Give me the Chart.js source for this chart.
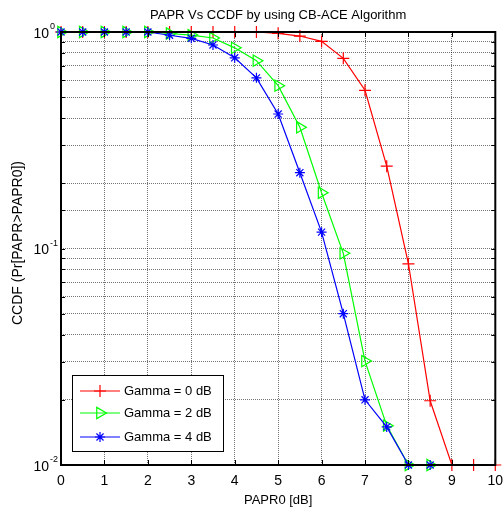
<!DOCTYPE html>
<html><head><meta charset="utf-8">
<script src="https://cdn.jsdelivr.net/npm/chart.js@4/dist/chart.umd.min.js"></script>
<style>html,body{margin:0;padding:0;background:#fff}#wrap{width:503px;height:512px}</style>
</head><body><div id="wrap"><canvas id="c" width="503" height="512"></canvas></div>
<script>
// ---- data ----
const papr0 = [0,0.5,1,1.5,2,2.5,3,3.5,4,4.5,5,5.5,6,6.5,7,7.5,8,8.5,9,9.5,10];
const gamma0 = [1,1,1,1,1,1,1,1,1,1,0.986,0.958,0.905,0.756,0.538,0.240,0.085,0.0198,0.01,0.01,0.01];
const gamma2 = [1,1,1,1,1,0.984,0.968,0.938,0.845,0.737,0.565,0.363,0.181,0.095,0.0302,0.0152,0.01,0.01];
const gamma4 = [1,1,1,1,1,0.966,0.935,0.871,0.760,0.614,0.418,0.224,0.119,0.050,0.020,0.015,0.01,0.01];
const seriesNames = ['Gamma = 0 dB','Gamma = 2 dB','Gamma = 4 dB'];
const xTickLabels = ['0','1','2','3','4','5','6','7','8','9','10'];
const yTickValues = [1,0.1,0.01];
const yTickExps = ['0','-1','-2'];
const titleText = 'PAPR Vs CCDF by using CB-ACE Algorithm';
const xTitle = 'PAPR0 [dB]';
const yTitle = 'CCDF (Pr[PAPR>PAPR0])';

const FONT = '"Liberation Sans", Arial, sans-serif';
const toXY = (ys) => ys.map((v,i)=>({x:papr0[i], y:v}));

const styles = [
  {color:'#ff0000', pointStyle:'cross', radius:6, rot:0},
  {color:'#00ff00', pointStyle:'triangle', radius:6.5, rot:90},
  {color:'#0000ff', pointStyle:'star', radius:5, rot:0}
];
const allSeries = [gamma0, gamma2, gamma4];

const datasets = allSeries.map((s,i)=>({
  label: seriesNames[i],
  data: toXY(s),
  borderColor: styles[i].color,
  backgroundColor: 'rgba(0,0,0,0)',
  borderWidth: 1.2,
  pointStyle: styles[i].pointStyle,
  pointRadius: styles[i].radius,
  pointRotation: styles[i].rot,
  pointBorderColor: styles[i].color,
  pointBackgroundColor: 'rgba(0,0,0,0)',
  pointBorderWidth: 1.2,
  tension: 0,
  clip: false,
  order: 3 - i
}));

const overlay = {
  id:'overlay',
  afterDraw(chart){
    const ctx = chart.ctx, a = chart.chartArea;
    const xs = chart.scales.x, ys = chart.scales.y;
    ctx.save();
    // box
    ctx.strokeStyle = '#000'; ctx.lineWidth = 2;
    ctx.strokeRect(a.left, a.top, a.right-a.left, a.bottom-a.top);
    // tick marks
    ctx.lineWidth = 1;
    ctx.beginPath();
    for (let v=0; v<=10; v++){
      const px = Math.round(xs.getPixelForValue(v))+0.5;
      ctx.moveTo(px, a.bottom); ctx.lineTo(px, a.bottom-5);
      ctx.moveTo(px, a.top); ctx.lineTo(px, a.top+5);
    }
    ys.ticks.forEach(t=>{
      const py = Math.round(ys.getPixelForValue(t.value))+0.5;
      ctx.moveTo(a.left, py); ctx.lineTo(a.left+4, py);
      ctx.moveTo(a.right, py); ctx.lineTo(a.right-4, py);
    });
    ctx.stroke();
    // title
    ctx.fillStyle = '#000';
    ctx.font = '13px ' + FONT;
    ctx.textAlign = 'center'; ctx.textBaseline = 'middle';
    ctx.fillText(titleText, (a.left+a.right)/2, 15);
    // x tick labels
    ctx.font = '14px ' + FONT;
    xTickLabels.forEach((l,i)=>{
      ctx.fillText(l, xs.getPixelForValue(i), 481);
    });
    // x title
    ctx.font = '13px ' + FONT;
    ctx.fillText(xTitle, (a.left+a.right)/2, 500);
    // y title
    ctx.save();
    ctx.translate(18, 243);
    ctx.rotate(-Math.PI/2);
    ctx.font = '14px ' + FONT;
    ctx.fillText(yTitle, 0, 0);
    ctx.restore();
    // y tick labels
    yTickValues.forEach((v,i)=>{
      const py = ys.getPixelForValue(v);
      ctx.fillStyle = '#000';
      ctx.font = '14px ' + FONT;
      ctx.textAlign = 'right'; ctx.textBaseline = 'middle';
      ctx.fillText('10', 49, py+2);
      ctx.font = '9px ' + FONT;
      ctx.textAlign = 'left';
      ctx.fillText(yTickExps[i], 50, py-5);
    });
    // legend
    const lx = 72, ly = 375, lw = 151, lh = 76;
    ctx.fillStyle = '#fff';
    ctx.fillRect(lx, ly, lw, lh);
    ctx.strokeStyle = '#000'; ctx.lineWidth = 1;
    ctx.strokeRect(lx+0.5, ly+0.5, lw, lh);
    const rows = [391, 413, 437];
    datasets.forEach((d,i)=>{
      const y = rows[i];
      ctx.strokeStyle = d.borderColor; ctx.lineWidth = 1.2;
      ctx.beginPath(); ctx.moveTo(80, y); ctx.lineTo(120, y); ctx.stroke();
      ctx.fillStyle = 'rgba(0,0,0,0)';
      ctx.strokeStyle = d.borderColor;
      ctx.lineWidth = 1.2;
      Chart.helpers.drawPoint(ctx, {pointStyle:d.pointStyle, radius:d.pointRadius, rotation:d.pointRotation, borderWidth:1.2}, 100, y);
      ctx.fillStyle = '#000';
      ctx.font = '13px ' + FONT;
      ctx.textAlign = 'left'; ctx.textBaseline = 'middle';
      ctx.fillText(d.label, 124, y);
    });
    ctx.restore();
  }
};

new Chart(document.getElementById('c'), {
  type:'line',
  data:{datasets},
  options:{
    responsive:false, animation:false,
    layout:{padding:{left:61, top:32, right:4, bottom:47}},
    plugins:{legend:{display:false}, title:{display:false}, tooltip:{enabled:false}},
    scales:{
      x:{type:'linear', min:0, max:10,
         ticks:{display:false, stepSize:1},
         grid:{drawTicks:false, color:'rgba(0,0,0,0.55)', lineWidth:1},
         border:{display:false, dash:[1,1]},
         afterFit(s){ s.height = 0; }},
      y:{type:'logarithmic', min:0.01, max:1,
         ticks:{display:false},
         grid:{drawTicks:false, color:'rgba(0,0,0,0.55)', lineWidth:1},
         border:{display:false, dash:[1,1]},
         afterFit(s){ s.width = 0; }}
    }
  },
  plugins:[overlay]
});
</script>
</body></html>
